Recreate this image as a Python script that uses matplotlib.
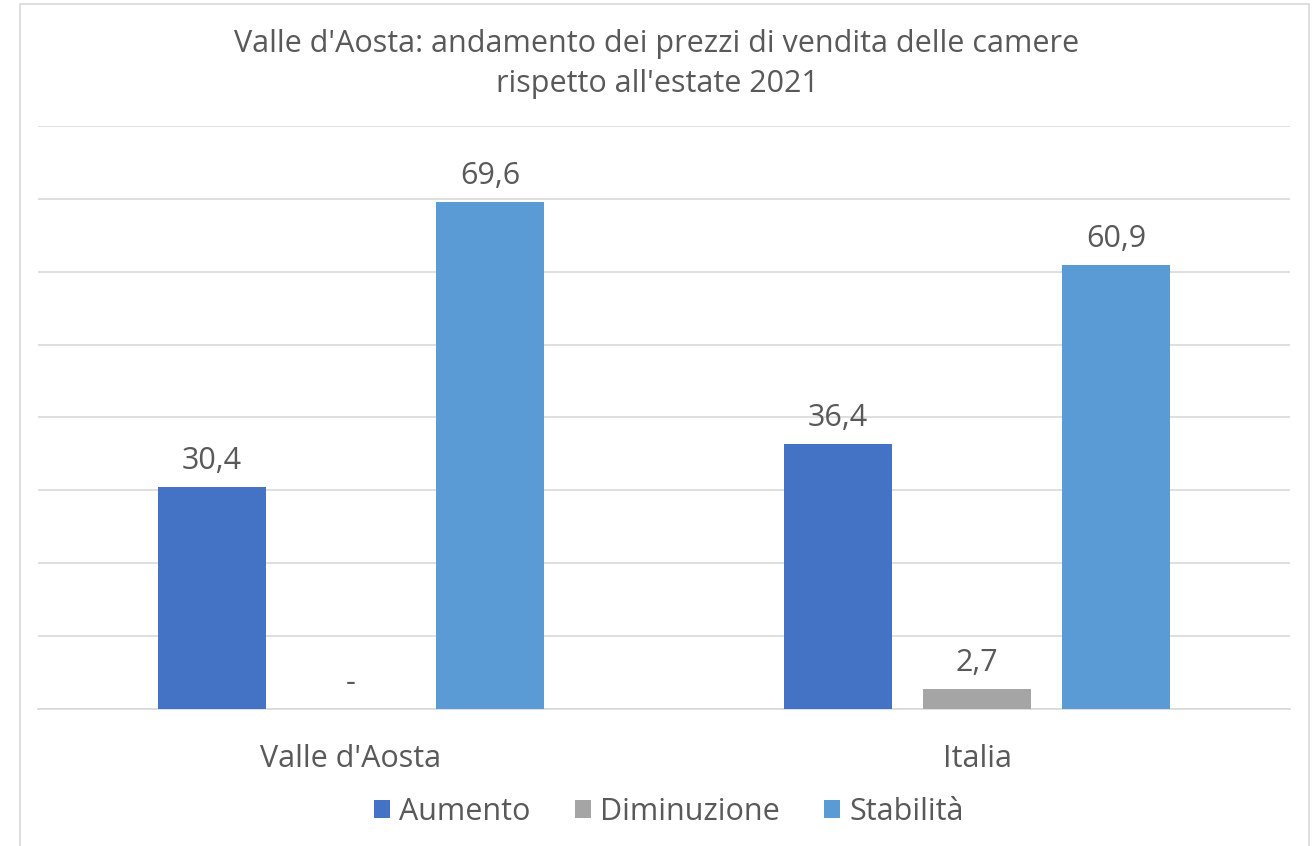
import matplotlib
matplotlib.use("Agg")
import matplotlib.pyplot as plt
import numpy as np
from matplotlib.patches import Rectangle

categories = ["Valle d'Aosta", "Italia"]
series_names = ["Aumento", "Diminuzione", "Stabilità"]
aumento = [30.4, 36.4]
diminuzione = [0.0, 2.7]
stabilita = [69.6, 60.9]
labels_aumento = ["30,4", "36,4"]
labels_diminuzione = ["-", "2,7"]
labels_stabilita = ["69,6", "60,9"]
colors = ["#4472C4", "#A5A5A5", "#5B9BD5"]
yticks = [0, 10, 20, 30, 40, 50, 60, 70, 80]

plt.rcParams['font.family'] = ['Open Sans', 'DejaVu Sans']
txt = "#595959"

W, H = 1314, 846
fig = plt.figure(figsize=(W/100, H/100), dpi=100)
# outer frame
fig.patches.append(Rectangle((20/W, -0.01), (1309-20)/W, (846-4)/H + 0.01, transform=fig.transFigure,
                             fill=False, edgecolor="#D9D9D9", linewidth=1.2))

ax = fig.add_axes([38/W, 1-709/H, (1290-38)/W, (709-126)/H])
x = np.arange(len(categories))
bw = 0.174
off = 0.222
series = [aumento, diminuzione, stabilita]
labs = [labels_aumento, labels_diminuzione, labels_stabilita]
for i, (vals, lab, c, name) in enumerate(zip(series, labs, colors, series_names)):
    xs = x + (i - 1) * off
    ax.bar(xs, vals, width=bw, color=c, label=name, zorder=3)
    for xi, v, l in zip(xs, vals, lab):
        ax.annotate(l, (xi, v), xytext=(0, 13), textcoords="offset points",
                    ha="center", va="baseline", fontsize=22, color=txt)

ax.set_xlim(-0.5, 1.5)
ax.set_ylim(0, 80)
ax.set_yticks(yticks)
ax.yaxis.grid(True, color="#D9D9D9", linewidth=1.2, zorder=0)
ax.set_yticklabels([])
ax.tick_params(axis="y", length=0)
ax.tick_params(axis="x", length=0, pad=25, labelsize=22, labelcolor=txt)
ax.set_xticks(x)
ax.set_xticklabels(categories)
for s in ["top", "right", "left"]:
    ax.spines[s].set_visible(False)
ax.spines["bottom"].set_color("#D9D9D9")
ax.spines["bottom"].set_linewidth(1.2)

fig.text(0.5, 1-64/H, "Valle d'Aosta: andamento dei prezzi di vendita delle camere\nrispetto all'estate 2021",
         ha="center", va="center", fontsize=22, color=txt, linespacing=1.45)

handles, lbls = ax.get_legend_handles_labels()
fig.legend(handles, lbls, loc="center", bbox_to_anchor=(669/W, 1-812/H), ncol=3, frameon=False,
           fontsize=22, labelcolor=txt, handlelength=0.52, handleheight=0.52, handletextpad=0.3,
           columnspacing=1.45)

fig.savefig("out.png", dpi=100)
